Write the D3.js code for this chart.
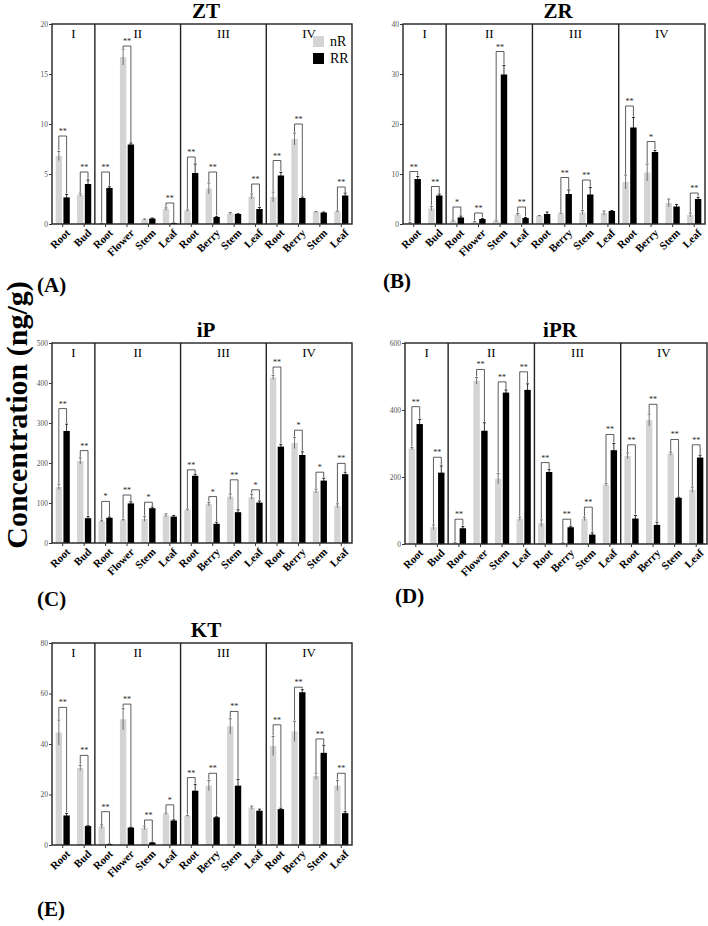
<!DOCTYPE html>
<html>
<head>
<meta charset="utf-8">
<script src="https://cdn.jsdelivr.net/npm/d3@7"></script>
<style>
  body { margin: 0; background: #fff; }
  svg { display: block; font-family: "Liberation Serif", "Times New Roman", Times, serif; }
</style>
</head>
<body>
<div id="fig"></div>
<script>
// categories (shared by every panel) and the four stage groups
var categories = ["Root","Bud","Root","Flower","Stem","Leaf","Root","Berry","Stem","Leaf","Root","Berry","Stem","Leaf"];
var groupNames = ["I","II","III","IV"];
var groupSizes = [2, 4, 4, 4];
var seriesNames = ["nR", "RR"];

// ZT
var ztTicks = [0, 5, 10, 15, 20];
var ztNR    = [6.8, 2.93, 0.05, 16.7, 0.45, 1.5, 1.35, 3.55, 1.05, 2.75, 2.7, 8.5, 1.2, 1.25];
var ztNRErr = [0.45, 0.15, 0.02, 0.8, 0.05, 0.12, 0.06, 0.55, 0.1, 0.25, 0.5, 0.6, 0.05, 0.05];
var ztRR    = [2.66, 4.0, 3.6, 7.95, 0.55, 0.08, 5.1, 0.7, 1.0, 1.5, 4.85, 2.6, 1.15, 2.85];
var ztRRErr = [0.3, 0.4, 0.12, 0.15, 0.05, 0.02, 0.9, 0.06, 0.03, 0.15, 0.3, 0.1, 0.05, 0.25];
var ztSig   = ["**","**","**","**","","**","**","**","","**","**","**","","**"];
var ztBracket = [8.8, 5.2, 5.2, 17.8, null, 2.1, 6.7, 5.2, null, 4.0, 6.35, 10.0, null, 3.7];

// ZR
var zrTicks = [0, 10, 20, 30, 40];
var zrNR    = [0.2, 3.1, 0.6, 0.4, 0.6, 1.9, 1.6, 2.1, 2.3, 2.2, 8.4, 10.3, 4.2, 1.8];
var zrNRErr = [0.1, 0.4, 0.2, 0.1, 0.2, 0.2, 0.1, 0.1, 0.4, 0.4, 1.4, 1.7, 0.8, 0.4];
var zrRR    = [9.0, 5.7, 1.3, 1.0, 29.9, 1.2, 2.0, 6.0, 5.9, 2.6, 19.3, 14.4, 3.5, 5.0];
var zrRRErr = [0.5, 0.3, 0.3, 0.1, 1.8, 0.1, 0.4, 0.8, 1.4, 0.1, 2.0, 0.3, 0.4, 0.3];
var zrSig   = ["**","**","*","**","**","**","","**","**","","**","*","","**"];
var zrBracket = [10.5, 7.5, 3.4, 2.2, 34.5, 3.4, null, 9.3, 8.8, null, 23.6, 16.5, null, 6.2];

// iP
var ipTicks = [0, 100, 200, 300, 400, 500];
var ipNR    = [140, 205, 55, 57, 60, 69, 83, 97, 116, 115, 414, 250, 130, 93];
var ipNRErr = [7, 8, 2, 2, 6, 4, 2, 4, 7, 6, 5, 14, 5, 5];
var ipRR    = [280, 62, 63, 99, 87, 66, 168, 48, 77, 101, 241, 220, 156, 172];
var ipRRErr = [17, 4, 2, 4, 3, 3, 4, 4, 6, 4, 5, 8, 6, 5];
var ipSig   = ["**","**","*","**","*","","**","*","**","*","**","*","*","**"];
var ipBracket = [336, 231, 104, 120, 102, null, 183, 116, 158, 133, 440, 282, 177, 199];

// iPR
var iprTicks = [0, 200, 400, 600];
var iprNR    = [285, 50, 3, 487, 195, 75, 62, 3, 75, 177, 263, 370, 270, 162];
var iprNRErr = [3, 7, 1, 10, 15, 5, 10, 1, 5, 4, 9, 18, 5, 8];
var iprRR    = [358, 213, 47, 338, 452, 460, 215, 50, 28, 280, 76, 57, 138, 258];
var iprRRErr = [14, 20, 5, 24, 8, 18, 7, 3, 5, 20, 9, 8, 2, 7];
var iprSig   = ["**","**","**","**","**","**","**","**","**","**","**","**","**","**"];
var iprBracket = [410, 259, 74, 521, 484, 514, 243, 74, 110, 327, 296, 417, 312, 296];

// KT
var ktTicks = [0, 20, 40, 60, 80];
var ktNR    = [44.5, 30.5, 7.3, 49.8, 6.8, 12.4, 11.5, 23.5, 47, 14.8, 39.2, 45, 27.3, 23.5];
var ktNRErr = [5, 1, 0.7, 4.2, 0.7, 0.3, 0.2, 2, 3, 0.6, 3.8, 4, 1.2, 2];
var ktRR    = [11.7, 7.5, 0.3, 6.9, 1.0, 9.7, 21.5, 11, 23.5, 13.6, 14.2, 60.5, 36.5, 12.6];
var ktRRErr = [0.8, 0.3, 0.1, 0.2, 0.1, 0.3, 2.5, 0.2, 2.5, 0.6, 0.4, 1, 3, 0.6];
var ktSig   = ["**","**","**","**","**","*","**","**","**","","**","**","**","**"];
var ktBracket = [54.5, 35.5, 13.2, 55.8, 9.9, 15.9, 26.7, 28.4, 52.9, null, 47.6, 62.5, 42, 28.4];

var colors = {nR: "#d4d4d4", RR: "#000000"};

var W = 708, H = 926;
var svg = d3.select("#fig").append("svg")
    .attr("width", W)
    .attr("height", H);

// panel boxes (pixel layout of the figure)
var panels = [
  {title: "ZT",  label: "(A)", x0: 52,  x1: 352, y0: 24,  y1: 224, lx: 37,  ly: 292, legend: true,
   ticks: ztTicks, nR: ztNR, nRErr: ztNRErr, RR: ztRR, RRErr: ztRRErr, sig: ztSig, br: ztBracket},
  {title: "ZR",  label: "(B)", x0: 403, x1: 705, y0: 24,  y1: 224, lx: 383, ly: 288,
   ticks: zrTicks, nR: zrNR, nRErr: zrNRErr, RR: zrRR, RRErr: zrRRErr, sig: zrSig, br: zrBracket},
  {title: "iP",  label: "(C)", x0: 52,  x1: 352, y0: 343, y1: 543, lx: 37,  ly: 606,
   ticks: ipTicks, nR: ipNR, nRErr: ipNRErr, RR: ipRR, RRErr: ipRRErr, sig: ipSig, br: ipBracket},
  {title: "iPR", label: "(D)", x0: 405, x1: 707, y0: 343, y1: 544, lx: 395, ly: 603,
   ticks: iprTicks, nR: iprNR, nRErr: iprNRErr, RR: iprRR, RRErr: iprRRErr, sig: iprSig, br: iprBracket},
  {title: "KT",  label: "(E)", x0: 52,  x1: 352, y0: 643, y1: 845, lx: 37,  ly: 916,
   ticks: ktTicks, nR: ktNR, nRErr: ktNRErr, RR: ktRR, RRErr: ktRRErr, sig: ktSig, br: ktBracket}
];

panels.forEach(drawPanel);

// shared y axis title
svg.append("text")
  .attr("transform", "translate(26.5,415) rotate(-90)")
  .attr("text-anchor", "middle")
  .style("font-size", "30px")
  .style("font-weight", "bold")
  .text("Concentration (ng/g)");

function drawPanel(p) {
  var idx = d3.range(categories.length);
  var x = d3.scaleBand()
    .domain(idx)
    .range([p.x0, p.x1]);
  var bw = x.bandwidth();
  var xs = d3.scaleBand()
    .domain(seriesNames)
    .range([bw * 0.17, bw * 0.83])
    .paddingInner(0.18);
  var y = d3.scaleLinear()
    .domain([p.ticks[0], p.ticks[p.ticks.length - 1]])
    .range([p.y1, p.y0]);

  var g = svg.append("g");

  // bars
  seriesNames.forEach(function(s) {
    var vals = p[s], errs = p[s + "Err"];
    g.selectAll(null)
      .data(idx)
      .enter()
      .append("rect")
        .attr("x", function(i) { return x(i) + xs(s); })
        .attr("width", xs.bandwidth())
        .attr("y", function(i) { return y(vals[i]); })
        .attr("height", function(i) { return p.y1 - y(vals[i]); })
        .attr("fill", colors[s]);

    // error bars
    var eb = g.selectAll(null)
      .data(idx)
      .enter()
      .append("g")
        .attr("stroke", s == "nR" ? "#555" : "#000")
        .attr("stroke-width", 0.8);
    eb.append("line")
      .attr("x1", function(i) { return x(i) + xs(s) + xs.bandwidth() / 2; })
      .attr("x2", function(i) { return x(i) + xs(s) + xs.bandwidth() / 2; })
      .attr("y1", function(i) { return y(Math.max(0, vals[i] - errs[i])); })
      .attr("y2", function(i) { return y(vals[i] + errs[i]); });
    eb.append("line")
      .attr("x1", function(i) { return x(i) + xs(s) + xs.bandwidth() / 2 - 1.5; })
      .attr("x2", function(i) { return x(i) + xs(s) + xs.bandwidth() / 2 + 1.5; })
      .attr("y1", function(i) { return y(vals[i] + errs[i]); })
      .attr("y2", function(i) { return y(vals[i] + errs[i]); });
  });

  // significance brackets
  var sigIdx = idx.filter(function(i) { return p.br[i] != null; });
  var br = g.selectAll(null)
    .data(sigIdx)
    .enter()
    .append("g");
  br.append("path")
    .attr("fill", "none")
    .attr("stroke", "#333")
    .attr("stroke-width", 0.8)
    .attr("d", function(i) {
      var xa = x(i) + xs("nR") + xs.bandwidth() / 2,
          xb = x(i) + xs("RR") + xs.bandwidth() / 2,
          yt = y(p.br[i]),
          ya = y(p.nR[i] + p.nRErr[i]) - 1,
          yb = y(p.RR[i] + p.RRErr[i]) - 1;
      return "M" + xa + "," + ya + "V" + yt + "H" + xb + "V" + yb;
    });
  br.append("text")
    .attr("x", function(i) { return x(i) + bw / 2; })
    .attr("y", function(i) { return y(p.br[i]) - 2; })
    .attr("text-anchor", "middle")
    .style("font-size", "8px")
    .attr("fill", "#222")
    .text(function(i) { return p.sig[i]; });

  // group dividers and roman numerals
  var start = 0;
  groupSizes.forEach(function(n, k) {
    var gx0 = x(start), gx1 = start + n < categories.length ? x(start + n) : p.x1;
    if (k > 0) {
      g.append("line")
        .attr("x1", gx0).attr("x2", gx0)
        .attr("y1", p.y0).attr("y2", p.y1)
        .attr("stroke", "#222")
        .attr("stroke-width", 1.4);
    }
    g.append("text")
      .attr("x", (gx0 + gx1) / 2)
      .attr("y", p.y0 + 14)
      .attr("text-anchor", "middle")
      .style("font-size", "13px")
      .text(groupNames[k]);
    start += n;
  });

  // frame
  g.append("rect")
    .attr("x", p.x0).attr("y", p.y0)
    .attr("width", p.x1 - p.x0).attr("height", p.y1 - p.y0)
    .attr("fill", "none")
    .attr("stroke", "#222")
    .attr("stroke-width", 1.4);

  // y axis
  var ya = g.append("g")
    .attr("transform", "translate(" + p.x0 + ",0)")
    .call(d3.axisLeft(y).tickValues(p.ticks).tickSize(3).tickPadding(1));
  ya.select(".domain").remove();
  ya.selectAll("line").attr("stroke", "#333");
  ya.selectAll("text")
    .style("font-size", "7.5px")
    .style("font-family", "Liberation Serif")
    .attr("fill", "#555");

  // x axis
  var xa = g.append("g")
    .attr("transform", "translate(0," + p.y1 + ")")
    .call(d3.axisBottom(x).tickSize(3).tickFormat(function(i) { return categories[i]; }));
  xa.select(".domain").remove();
  xa.selectAll("line").attr("stroke", "#333");
  xa.selectAll("text")
    .style("font-size", "11px")
    .style("font-weight", "bold")
    .style("font-family", "Liberation Serif")
    .attr("fill", "#000")
    .attr("text-anchor", "end")
    .attr("transform", "translate(2,2) rotate(-45)")
    .attr("dy", "0.6em")
    .attr("y", 3)
    .attr("dx", "-0.1em");

  // title
  svg.append("text")
    .attr("x", (p.x0 + p.x1) / 2 + 4)
    .attr("y", p.y0 - 6)
    .attr("text-anchor", "middle")
    .style("font-size", "21px")
    .style("font-weight", "bold")
    .text(p.title);

  // panel letter
  svg.append("text")
    .attr("x", p.lx)
    .attr("y", p.ly)
    .style("font-size", "21px")
    .style("font-weight", "bold")
    .text(p.label);

  // legend (only the first panel)
  if (p.legend) {
    var lg = svg.append("g");
    seriesNames.forEach(function(s, k) {
      lg.append("rect")
        .attr("x", p.x1 - 39).attr("y", p.y0 + 12 + k * 17)
        .attr("width", 11).attr("height", 11)
        .attr("fill", colors[s]);
      lg.append("text")
        .attr("x", p.x1 - 22).attr("y", p.y0 + 22 + k * 17)
        .style("font-size", "14px")
        .text(s);
    });
  }
}
</script>
</body>
</html>
